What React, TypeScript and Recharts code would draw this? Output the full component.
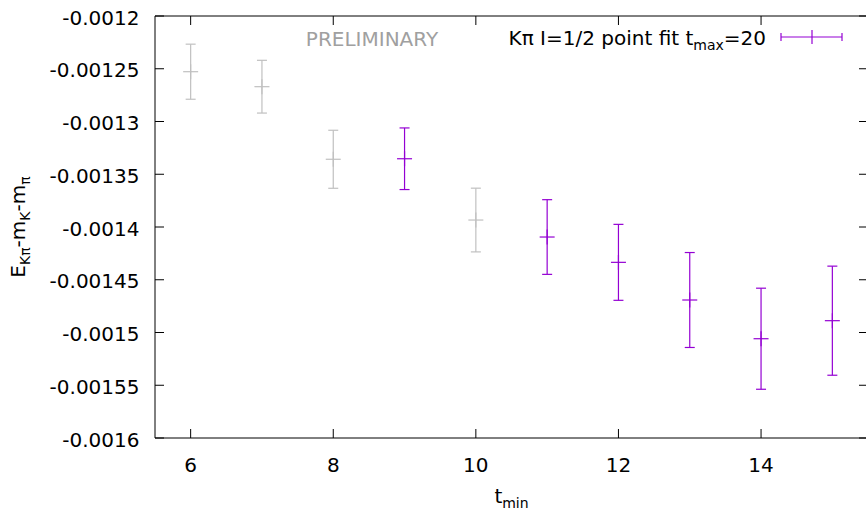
import React from 'react';
import { ScatterChart, Scatter, XAxis, YAxis, ErrorBar, Legend, Customized, ReferenceLine } from 'recharts';

const FONT = '"DejaVu Sans", sans-serif';
const GRAY = '#c0c0c0';
const PURPLE = '#9400d3';
const TICK_LEN = 9;
const CHART_H = 512;
const MARGIN_TOP = 16;
const X_AXIS_H = 74;
const PLOT_H = CHART_H - MARGIN_TOP - X_AXIS_H;

// Excluded (gray) points
const tminGray = [6, 7, 8, 10];
const energyGray = [-0.0012528, -0.001267, -0.0013358, -0.0013934];
const errorGray = [0.0000261, 0.000025, 0.0000275, 0.0000302];

// Kπ I=1/2 point fit t_max=20 (purple)
const tminFit = [9, 11, 12, 13, 14, 15];
const energyFit = [-0.0013353, -0.0014095, -0.0014335, -0.0014692, -0.0015059, -0.0014888];
const errorFit = [0.0000292, 0.0000354, 0.000036, 0.000045, 0.0000479, 0.0000517];

const xTicks = [6, 8, 10, 12, 14];
const yTicks = [-0.0016, -0.00155, -0.0015, -0.00145, -0.0014, -0.00135, -0.0013, -0.00125, -0.0012];
const xDomain = [5.5, 15.5];
const yDomain = [-0.0016, -0.0012];

const grayData = tminGray.map((t, i) => ({ t, e: energyGray[i], err: errorGray[i] }));
const fitData = tminFit.map((t, i) => ({ t, e: energyFit[i], err: errorFit[i] }));

const makePlus = (color: string) => (props: any) => {
  const { cx, cy } = props;
  if (cx == null || cy == null) return <g />;
  return (
    <g>
      <line x1={cx - 7.5} y1={cy} x2={cx + 7.5} y2={cy} stroke={color} strokeWidth={1.2} />
      <line x1={cx} y1={cy - 7.5} x2={cx} y2={cy + 7.5} stroke={color} strokeWidth={1.2} />
    </g>
  );
};

// Bottom tick: inward tick at the bottom plus the mirrored inward tick on the top border
const BottomTick = (props: any) => {
  const { x, y, payload } = props;
  const top = y - PLOT_H;
  return (
    <g>
      <line x1={x} y1={y} x2={x} y2={y - TICK_LEN} stroke="#000" strokeWidth={1} />
      <line x1={x} y1={top} x2={x} y2={top + TICK_LEN} stroke="#000" strokeWidth={1} />
      <text x={x} y={y + 34} textAnchor="middle" fontFamily={FONT} fontSize={20} fill="#000">
        {String(payload.value)}
      </text>
    </g>
  );
};

const LeftTick = (props: any) => {
  const { x, y, payload } = props;
  return (
    <g>
      <line x1={x} y1={y} x2={x + TICK_LEN} y2={y} stroke="#000" strokeWidth={1} />
      <text x={x - 15.5} y={y + 8.5} textAnchor="end" fontFamily={FONT} fontSize={20} fill="#000">
        {String(payload.value)}
      </text>
    </g>
  );
};

const RightTick = (props: any) => {
  const { x, y } = props;
  return <line x1={x} y1={y} x2={x - TICK_LEN} y2={y} stroke="#000" strokeWidth={1} />;
};

const XLabel = (props: any) => {
  const vb = props.viewBox || { x: 155, y: 438, width: 713, height: 74 };
  const cx = vb.x + vb.width / 2;
  return (
    <text x={cx} y={vb.y + 65} textAnchor="middle" fontFamily={FONT} fontSize={20} fill="#000">
      t<tspan fontSize={14} dy={5}>min</tspan>
    </text>
  );
};

const YLabel = (props: any) => {
  const vb = props.viewBox || { x: 0, y: 16, width: 155, height: 422 };
  const cx = vb.x + 25;
  const cy = vb.y + vb.height / 2;
  return (
    <text x={cx} y={cy} transform={`rotate(-90 ${cx} ${cy})`} textAnchor="middle" fontFamily={FONT} fontSize={20} fill="#000">
      E<tspan fontSize={14} dy={5}>Kπ</tspan>
      <tspan fontSize={20} dy={-5}>-m</tspan>
      <tspan fontSize={14} dy={5}>K</tspan>
      <tspan fontSize={20} dy={-5}>-m</tspan>
      <tspan fontSize={14} dy={5}>π</tspan>
    </text>
  );
};

const Prelim = () => (
  <text x={372} y={46} textAnchor="middle" fontFamily={FONT} fontSize={20} fill="#a0a0a0">
    PRELIMINARY
  </text>
);

const LegendContent = () => (
  <div style={{ position: 'relative', width: 366, height: 24, fontFamily: FONT }}>
    <span style={{ position: 'absolute', right: 100, top: 2, fontSize: 20, lineHeight: '20px', whiteSpace: 'nowrap', color: '#000' }}>
      Kπ I=1/2 point fit t<span style={{ fontSize: 14, position: 'relative', top: 5 }}>max</span>=20
    </span>
    <svg style={{ position: 'absolute', left: 278, top: 4, overflow: 'visible' }} width={68} height={14}>
      <line x1={3} y1={7} x2={64} y2={7} stroke={PURPLE} strokeWidth={1.2} />
      <line x1={3} y1={3} x2={3} y2={11} stroke={PURPLE} strokeWidth={1.2} />
      <line x1={64} y1={3} x2={64} y2={11} stroke={PURPLE} strokeWidth={1.2} />
      <line x1={34} y1={0} x2={34} y2={14} stroke={PURPLE} strokeWidth={1.2} />
    </svg>
  </div>
);

export default function App() {
  return (
    <div style={{ position: 'absolute', left: 0, top: 0, width: 866, height: 512, overflow: 'hidden', background: '#fff' }}>
      <ScatterChart width={880} height={CHART_H} margin={{ top: MARGIN_TOP, right: 11, left: 0, bottom: 0 }}>
        <XAxis xAxisId={0} type="number" dataKey="t" domain={xDomain} ticks={xTicks} allowDataOverflow height={X_AXIS_H} stroke="#000" tickLine={false} tickSize={0} tickMargin={0} tick={<BottomTick />} label={<XLabel />} />
        <YAxis yAxisId={0} type="number" dataKey="e" domain={yDomain} ticks={yTicks} allowDataOverflow width={155} stroke="#000" tickLine={false} tickSize={0} tickMargin={0} tick={<LeftTick />} label={<YLabel />} />
        <YAxis yAxisId="right" orientation="right" type="number" domain={yDomain} ticks={yTicks} allowDataOverflow width={1} stroke="#000" tickLine={false} tickSize={0} tickMargin={0} tick={<RightTick />} />
        <ReferenceLine xAxisId={0} yAxisId={0} y={yDomain[1]} stroke="#000" strokeWidth={1} ifOverflow="extendDomain" />
        <Scatter data={grayData} fill={GRAY} shape={makePlus(GRAY)} isAnimationActive={false} legendType="none">
          <ErrorBar dataKey="err" direction="y" width={5} stroke={GRAY} strokeWidth={1.2} isAnimationActive={false} />
        </Scatter>
        <Scatter name="Kπ I=1/2 point fit tmax=20" data={fitData} fill={PURPLE} shape={makePlus(PURPLE)} isAnimationActive={false}>
          <ErrorBar dataKey="err" direction="y" width={5} stroke={PURPLE} strokeWidth={1.2} isAnimationActive={false} />
        </Scatter>
        <Customized component={<Prelim />} />
        <Legend layout="horizontal" verticalAlign="middle" align="center" content={<LegendContent />} wrapperStyle={{ left: 500, top: 26, width: 366, height: 24 }} />
      </ScatterChart>
    </div>
  );
}
